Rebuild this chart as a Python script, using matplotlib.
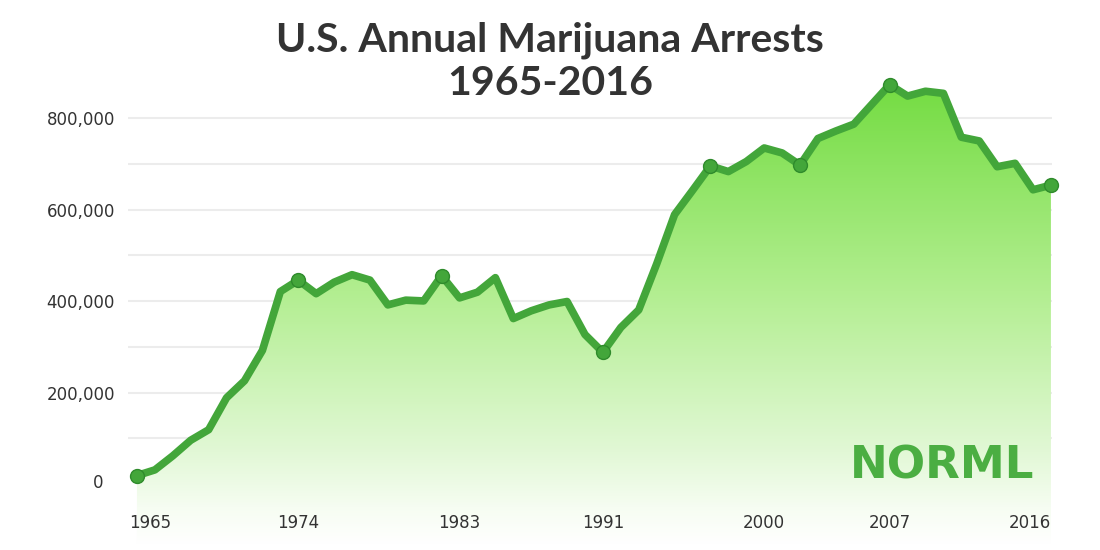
import matplotlib
matplotlib.use('Agg')
import matplotlib.pyplot as plt
import numpy as np
from matplotlib.colors import LinearSegmentedColormap
from matplotlib.patches import Polygon
from matplotlib.ticker import FuncFormatter
import matplotlib.transforms as mtransforms

# U.S. marijuana arrests per year (FBI UCR, as charted by NORML)
years = list(range(1965, 2017))
arrests = [18815, 31119, 61843, 95870, 118903, 188682, 225828, 292179, 420700, 445600,
           416100, 441100, 457600, 445800, 391600, 401982, 400300, 455600, 406900, 419400,
           451138, 361800, 378709, 391600, 399000, 326850, 287850, 342314, 380689, 481098,
           588963, 641642, 695201, 682885, 704812, 734497, 723627, 697082, 755186, 771605,
           786545, 829625, 872720, 847863, 858408, 853838, 757969, 749825, 693482, 700993,
           643121, 653249]
marker_years = [1965, 1974, 1982, 1991, 1997, 2002, 2007, 2016]
xtick_years = [1965, 1974, 1983, 1991, 2000, 2007, 2016]
ytick_values = [0, 200000, 400000, 600000, 800000]
grid_values = [100000, 200000, 300000, 400000, 500000, 600000, 700000, 800000]

title = 'U.S. Annual Marijuana Arrests\n1965-2016'

line_color = '#43a63a'
text_color = '#333333'

fig = plt.figure(figsize=(11, 5.5), dpi=100)
ax = fig.add_axes([128 / 1100, 1 - 545 / 550, (1052 - 128) / 1100, (545 - 80) / 550])

ymin, ymax = -133000, 883000
xmin, xmax = 1964.5, 2016.06
ax.set_xlim(xmin, xmax)
ax.set_ylim(ymin, ymax)

for g in grid_values:
    ax.axhline(g, color='#ececec', lw=1.5, zorder=0.5)

# gradient fill under the line, fading to white at the bottom
cmap = LinearSegmentedColormap.from_list(
    'grn', [(0, '#ffffff'), (0.08, '#f6fdf2'), (0.2, '#e2f8d6'), (0.55, '#b2ee90'), (1, '#74dc42')])
grad = np.linspace(0, 1, 256).reshape(-1, 1)
im = ax.imshow(grad, cmap=cmap, origin='lower', aspect='auto',
               extent=[xmin, xmax, ymin, max(arrests)], zorder=1)
verts = list(zip(years, arrests)) + [(years[-1], ymin), (years[0], ymin)]
poly = Polygon(verts, closed=True, facecolor='none', edgecolor='none')
ax.add_patch(poly)
im.set_clip_path(poly)

ax.plot(years, arrests, color=line_color, lw=5.5, solid_joinstyle='round',
        solid_capstyle='round', zorder=3, clip_on=False)
my = [arrests[years.index(y)] for y in marker_years]
ax.plot(marker_years, my, 'o', ms=10, mfc=line_color, mec='#2f8b2c', mew=1,
        zorder=4, clip_on=False)

for s in ax.spines.values():
    s.set_visible(False)

ax.set_yticks(ytick_values)
ax.yaxis.set_major_formatter(FuncFormatter(lambda v, p: f'{int(v):,}'))
ax.tick_params(axis='y', length=0, pad=9.5, labelsize=12, labelcolor=text_color)
ax.set_xticks(xtick_years)
ax.set_xticklabels([str(y) for y in xtick_years])
ax.tick_params(axis='x', length=0, pad=-22, labelsize=12, labelcolor=text_color)

yl = ax.get_yticklabels()
yl[0].set_transform(yl[0].get_transform() + mtransforms.ScaledTranslation(-11 / 100, 3 / 100, fig.dpi_scale_trans))

xl = ax.get_xticklabels()
xl[0].set_ha('left')
xl[0].set_transform(xl[0].get_transform() + mtransforms.ScaledTranslation(-8 / 100, 0, fig.dpi_scale_trans))
xl[-1].set_ha('right')

fig.text(0.5, 1 - 62 / 550, title, ha='center', va='center', fontsize=29.5,
         fontfamily=['Lato', 'Liberation Sans'], fontweight='bold', color=text_color, linespacing=1.2)

# NORML logo as text
fig.text(942 / 1100, 1 - 466 / 550, 'NORML', ha='center', va='center', fontsize=32.5,
         fontfamily='DejaVu Sans', fontweight='bold', color='#4bae42')

fig.savefig('out.png', dpi=100)
